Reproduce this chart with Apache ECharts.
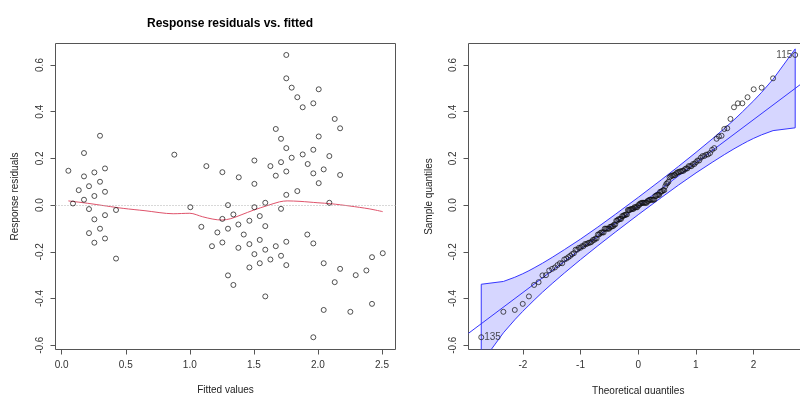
<!DOCTYPE html>
<html><head><meta charset="utf-8">
<script src="https://cdn.jsdelivr.net/npm/echarts@6/dist/echarts.min.js"></script>
<style>html,body{margin:0;padding:0;background:#fff}#c{width:800px;height:394px}</style>
</head><body><div id="c"></div>
<script>
// ---- Left panel: residuals vs fitted ----
var fittedValues = [0.052,0.088,0.133,0.174,0.174,0.174,0.213,0.213,0.213,0.255,0.255,0.255,0.255,0.299,0.299,0.299,0.338,0.338,0.338,0.338,0.424,0.424,
0.879,1.004,1.090,1.129,1.173,1.215,1.254,1.254,1.254,1.298,1.298,1.298,1.340,1.340,1.379,1.379,1.382,1.421,1.465,1.465,1.465,1.504,1.504,1.504,1.504,1.546,1.546,1.546,1.589,1.589,1.589,1.589,1.629,1.629,1.671,1.671,1.671,1.712,1.712,1.712,1.712,1.753,1.753,1.753,1.753,1.753,1.753,1.753,1.795,1.795,1.839,1.839,1.881,1.881,1.917,1.920,1.964,1.964,1.964,1.964,1.964,2.006,2.006,2.006,2.045,2.045,2.045,2.089,2.089,2.131,2.131,2.173,2.173,2.173,2.253,2.295,2.378,2.422,2.422,2.506];
var residuals = [0.147,0.007,0.064,0.223,0.123,0.023,0.081,-0.017,-0.120,0.140,0.039,-0.061,-0.161,0.297,0.100,-0.101,0.157,0.057,-0.043,-0.143,-0.021,-0.229,
0.216,-0.009,-0.093,0.167,-0.176,-0.117,0.141,-0.059,-0.160,0.000,-0.101,-0.301,-0.040,-0.342,-0.083,-0.183,0.119,-0.126,-0.067,-0.167,-0.267,0.191,0.091,-0.009,-0.210,-0.047,-0.149,-0.249,0.010,-0.090,-0.191,-0.391,0.167,-0.233,0.326,0.126,-0.176,0.284,0.184,-0.016,-0.217,0.643,0.543,0.244,0.144,0.044,-0.157,-0.257,0.503,0.203,0.462,0.060,0.419,0.217,-0.126,0.176,0.436,0.237,0.136,-0.164,-0.566,0.496,0.294,0.094,0.153,-0.249,-0.449,0.210,0.010,0.369,-0.330,0.329,0.129,-0.273,-0.457,-0.300,-0.280,-0.223,-0.423,-0.206];
var smoothX = [0.052,0.20,0.35,0.48,0.65,0.87,1.00,1.10,1.18,1.25,1.32,1.40,1.50,1.60,1.70,1.76,1.86,2.00,2.10,2.25,2.40,2.506];
var smoothY = [0.018,0.008,-0.004,-0.014,-0.024,-0.037,-0.035,-0.050,-0.060,-0.064,-0.058,-0.042,-0.021,-0.003,0.014,0.018,0.016,0.010,0.006,-0.004,-0.016,-0.028];
var leftXTicks = [0, 2.5, 0.5];
var yTicks = [-0.6, 0.6, 0.2];

// ---- Right panel: QQ plot ----
var qqTheoretical = [-2.723,-2.339,-2.141,-2.003,-1.896,-1.806,-1.728,-1.661,-1.600,-1.544,-1.493,-1.445,-1.401,-1.359,-1.319,-1.282,-1.246,-1.211,-1.178,-1.146,-1.116,-1.086,-1.058,-1.030,-1.003,-0.976,-0.950,-0.925,-0.901,-0.877,-0.853,-0.830,-0.808,-0.785,-0.764,-0.742,-0.721,-0.700,-0.680,-0.659,-0.639,-0.620,-0.600,-0.581,-0.562,-0.543,-0.524,-0.506,-0.488,-0.470,-0.452,-0.434,-0.416,-0.399,-0.381,-0.364,-0.347,-0.330,-0.313,-0.296,-0.279,-0.262,-0.245,-0.229,-0.212,-0.195,-0.179,-0.162,-0.146,-0.130,-0.113,-0.097,-0.081,-0.065,-0.049,-0.032,-0.016,0.000,
0.016,0.032,0.049,0.065,0.081,0.097,0.113,0.130,0.146,0.162,0.179,0.195,0.212,0.229,0.245,0.262,0.279,0.296,0.313,0.330,0.347,0.364,0.381,0.399,0.416,0.434,0.452,0.470,0.488,0.506,0.524,0.543,0.562,0.581,0.600,0.620,0.639,0.659,0.680,0.700,0.721,0.742,0.764,0.785,0.808,0.830,0.853,0.877,0.901,0.925,0.950,0.976,1.003,1.030,1.058,1.086,1.116,1.146,1.178,1.211,1.246,1.282,1.319,1.359,1.401,1.445,1.493,1.544,1.600,1.661,1.728,1.806,1.896,2.003,2.141,2.339,2.723];
var qqSample = [-0.566,-0.457,-0.449,-0.423,-0.391,-0.342,-0.330,-0.301,-0.300,-0.280,-0.273,-0.267,-0.257,-0.249,-0.249,-0.233,-0.229,-0.223,-0.217,-0.210,-0.206,-0.191,-0.191,-0.183,-0.183,-0.176,-0.176,-0.167,-0.167,-0.164,-0.161,-0.160,-0.157,-0.149,-0.149,-0.143,-0.143,-0.126,-0.126,-0.120,-0.117,-0.117,-0.117,-0.101,-0.101,-0.101,-0.101,-0.101,-0.093,-0.093,-0.090,-0.090,-0.083,-0.083,-0.067,-0.067,-0.061,-0.061,-0.059,-0.059,-0.047,-0.047,-0.043,-0.043,-0.040,-0.040,-0.021,-0.021,-0.021,-0.017,-0.017,-0.016,-0.016,-0.009,-0.009,-0.009,-0.009,0.000,
0.000,0.007,0.007,0.010,0.010,0.010,0.010,0.010,0.010,0.018,0.018,0.023,0.023,0.023,0.023,0.023,0.024,0.039,0.039,0.044,0.044,0.044,0.057,0.057,0.060,0.064,0.064,0.081,0.091,0.094,0.100,0.119,0.123,0.126,0.126,0.129,0.129,0.136,0.140,0.141,0.144,0.144,0.147,0.147,0.153,0.157,0.157,0.167,0.167,0.167,0.176,0.176,0.184,0.191,0.191,0.203,0.210,0.210,0.216,0.217,0.223,0.237,0.244,0.284,0.294,0.297,0.326,0.329,0.369,0.419,0.436,0.436,0.462,0.496,0.503,0.543,0.643];
var pointLabels = {0: '135', 154: '115'};
var envX = [-2.723,-2.339,-2.141,-2.003,-1.896,-1.806,-1.661,-1.493,-1.282,-1.003,-0.700,-0.399,0,0.399,0.700,1.003,1.282,1.493,1.661,1.806,1.896,2.003,2.141,2.339,2.723];
var envUpper = [-0.339,-0.327,-0.309,-0.294,-0.281,-0.269,-0.249,-0.224,-0.191,-0.146,-0.094,-0.040,0.033,0.108,0.166,0.226,0.283,0.328,0.365,0.399,0.421,0.447,0.483,0.539,0.669];
var envLower = [-0.677,-0.547,-0.491,-0.455,-0.429,-0.407,-0.373,-0.336,-0.291,-0.234,-0.174,-0.116,-0.041,0.032,0.086,0.138,0.183,0.216,0.241,0.261,0.273,0.286,0.301,0.319,0.331];
var refLineX = [-2.944, 2.945];
var refLineY = [-0.549, 0.541];
var rightXTicks = [-2, 2, 1];

var FONT = 'Liberation Sans, Arial, sans-serif';
var AX = '#555';
var TXT = '#333';

function pairs(xs, ys){ return xs.map(function(x,i){ return [x, ys[i]]; }); }

var scatterData = pairs(fittedValues, residuals);
var qqData = qqTheoretical.map(function(x,i){
  var d = {value:[x, qqSample[i]]};
  if (pointLabels[i]) {
    d.label = {show:true, formatter: pointLabels[i], position: i===0 ? 'right' : 'left', distance: 0,
      fontSize:10, fontFamily:FONT, color:'#222'};
  }
  return d;
});

function boxX(grid, min, max, name, gap){
  return {type:'value', gridIndex:grid, min:min, max:max, name:name, nameLocation:'middle', nameGap:gap,
    nameTextStyle:{fontSize:10, fontFamily:FONT, color:'#222'},
    axisLine:{show:false, onZero:false}, axisTick:{show:false}, axisLabel:{show:false}, splitLine:{show:false}};
}
function boxY(grid, min, max, name, gap){
  return {type:'value', gridIndex:grid, min:min, max:max, name:name, nameLocation:'middle', nameGap:gap, nameRotate:90,
    nameTextStyle:{fontSize:10, fontFamily:FONT, color:'#222'},
    axisLine:{show:false, onZero:false}, axisTick:{show:false}, axisLabel:{show:false}, splitLine:{show:false}};
}
function tickX(grid, t, off, dec){
  return {type:'value', gridIndex:grid, min:t[0], max:t[1], interval:t[2], offset:off,
    axisLine:{show:false, onZero:false}, axisTick:{show:true, length:5, lineStyle:{color:AX}},
    axisLabel:{show:true, margin:11, fontSize:10, fontFamily:FONT, color:TXT,
      formatter:function(v){ return v.toFixed(dec); }},
    splitLine:{show:false}};
}
function tickY(grid, t, off){
  return {type:'value', gridIndex:grid, min:t[0], max:t[1], interval:t[2], offset:off,
    axisLine:{show:false, onZero:false}, axisTick:{show:true, length:5, lineStyle:{color:AX}},
    axisLabel:{show:true, rotate:90, margin:10, fontSize:10, fontFamily:FONT, color:TXT,
      formatter:function(v){ return v.toFixed(1); }},
    splitLine:{show:false}};
}

var option = {
  animation:false,
  backgroundColor:'#fff',
  title:{text:'Response residuals vs. fitted', left:225, top:13, textAlign:'center',
    textStyle:{fontSize:12, fontWeight:'bold', fontFamily:FONT, color:'#000'}},
  grid:[
    {left:55.5, right:404.5, top:43.5, bottom:44.5, show:true, borderColor:AX, borderWidth:1, backgroundColor:'transparent', outerBoundsMode:'none', containLabel:false},
    {left:61.7, right:418, top:65, bottom:48.8, outerBoundsMode:'none', containLabel:false},
    {left:468.5, right:-8, top:43.5, bottom:44.5, show:true, borderColor:AX, borderWidth:1, backgroundColor:'transparent', outerBoundsMode:'none', containLabel:false},
    {left:522.9, right:46.5, top:65, bottom:48.8, outerBoundsMode:'none', containLabel:false}
  ],
  xAxis:[
    boxX(0, -0.0484, 2.6054, 'Fitted values', 36),
    tickX(1, leftXTicks, 4.3, 1),
    boxX(2, -2.944, 2.945, 'Theoretical quantiles', 37),
    tickX(3, rightXTicks, 4.3, 0)
  ],
  yAxis:[
    boxY(0, -0.6184, 0.6921, 'Response residuals', 35),
    tickY(1, yTicks, 6.2),
    boxY(2, -0.6184, 0.6921, 'Sample quantiles', 34),
    tickY(3, yTicks, 54.4)
  ],
  series:[
    {type:'scatter', xAxisIndex:0, yAxisIndex:0, data:scatterData, symbol:'circle', symbolSize:5,
      itemStyle:{color:'rgba(0,0,0,0)', borderColor:'#111', borderWidth:0.9}, z:5,
      markLine:{silent:true, symbol:'none', label:{show:false},
        lineStyle:{type:[1,2], color:'#b0b0b0', width:1}, data:[{yAxis:0}]}},
    {type:'line', xAxisIndex:0, yAxisIndex:0, data:pairs(smoothX, smoothY), smooth:0.3, showSymbol:false,
      lineStyle:{color:'#DF536B', width:1}, z:4},
    {type:'custom', xAxisIndex:2, yAxisIndex:2, clip:true, silent:true, z:2,
      data:[[envX[0], envUpper[0]]],
      renderItem:function(params, api){
        var pts = [];
        for (var i=0;i<envX.length;i++) pts.push(api.coord([envX[i], envUpper[i]]));
        for (var j=envX.length-1;j>=0;j--) pts.push(api.coord([envX[j], envLower[j]]));
        return {type:'polygon', shape:{points:pts},
          style:{fill:'rgba(0,0,255,0.16)', stroke:'#3535ff', lineWidth:1}};
      }},
    {type:'line', xAxisIndex:2, yAxisIndex:2, data:pairs(refLineX, refLineY), showSymbol:false,
      lineStyle:{color:'#3535ff', width:1}, z:3},
    {type:'scatter', xAxisIndex:2, yAxisIndex:2, data:qqData, symbol:'circle', symbolSize:5,
      itemStyle:{color:'rgba(0,0,0,0)', borderColor:'#111', borderWidth:0.9}, z:5}
  ]
};
var chart = echarts.init(document.getElementById('c'), null, {renderer:'canvas'});
chart.setOption(option);
</script></body></html>
